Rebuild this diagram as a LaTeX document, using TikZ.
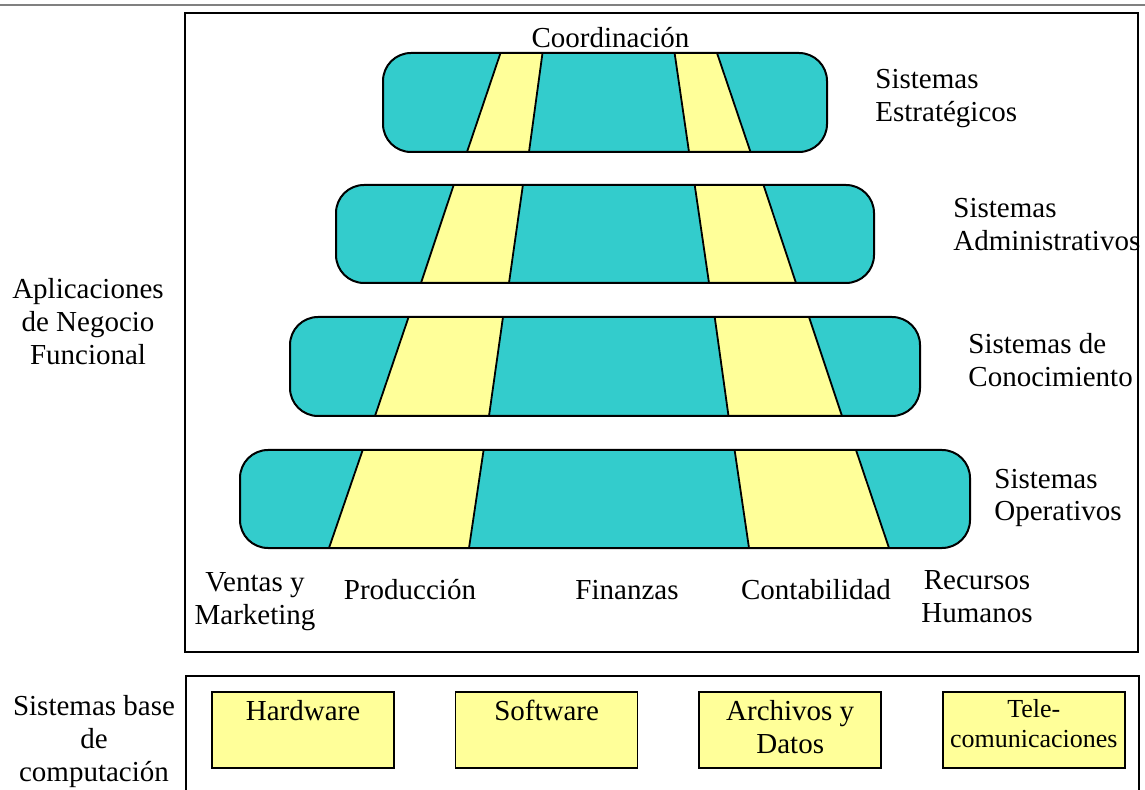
\documentclass[tikz,border=0pt]{standalone}
\usepackage{fontspec}
\setmainfont{Liberation Serif}
\usetikzlibrary{positioning}

\definecolor{turq}{RGB}{51,204,204}
\definecolor{amarillo}{RGB}{255,255,153}

\begin{document}
\begin{tikzpicture}[x=0.5pt,y=-0.5pt,
  every node/.style={font=\fontsize{14.5}{16.5}\selectfont,inner sep=0pt},
  fila/.style={draw=black,line width=1pt,rounded corners=14pt},
  banda/.style={fill=amarillo,draw=black,line width=.9pt},
  caja/.style={fill=amarillo,draw=black,line width=.8pt,minimum width=91pt,
    align=center,text height=14.5pt,text depth=23.5pt}]
\useasboundingbox (0,0) rectangle (1145,790);
\draw[gray,line width=1pt] (0,5) -- (1145,5);
\draw[line width=.8pt] (185,13) rectangle (1138,652);
\draw[line width=.8pt] (186,790) -- (186,676) -- (1139,676) -- (1139,790);
% niveles
\fill[turq,rounded corners=14pt] (383,53) rectangle (827,152);
\draw[banda] (500.5,53) -- (542.5,53) -- (529,152) -- (467,152) -- cycle;
\draw[banda] (674.6,53) -- (717,53) -- (750.5,152) -- (689,152) -- cycle;
\draw[fila] (383,53) rectangle (827,152);
\fill[turq,rounded corners=14pt] (336,185) rectangle (874,283);
\draw[banda] (453.7,185) -- (522.9,185) -- (509,283) -- (421,283) -- cycle;
\draw[banda] (694.7,185) -- (763.5,185) -- (796,283) -- (709,283) -- cycle;
\draw[fila] (336,185) rectangle (874,283);
\fill[turq,rounded corners=14pt] (290,317) rectangle (920,416);
\draw[banda] (408.6,317) -- (503,317) -- (489,416) -- (375,416) -- cycle;
\draw[banda] (714.7,317) -- (809,317) -- (842,416) -- (728.5,416) -- cycle;
\draw[fila] (290,317) rectangle (920,416);
\fill[turq,rounded corners=14pt] (240,450) rectangle (970,548);
\draw[banda] (362.7,450) -- (483.6,450) -- (469,548) -- (329,548) -- cycle;
\draw[banda] (734.6,450) -- (856,450) -- (889,548) -- (749,548) -- cycle;
\draw[fila] (240,450) rectangle (970,548);
% textos (base = ultima linea)
\node[anchor=base] (coord) at (610.5,48) {Coordinación};
\node[anchor=base west,align=left] (sest) at (875,122) {Sistemas\\Estratégicos};
\node[anchor=base west,align=left] (sadm) at (953,251) {Sistemas\\Administrativos};
\node[anchor=base west,align=left] (scon) at (968,387) {Sistemas de\\Conocimiento};
\node[anchor=base west,align=left] (sope) at (994,521) {Sistemas\\Operativos};
\node[anchor=base,align=center] (apl) at (88,365) {Aplicaciones\\de Negocio\\Funcional};
\node[anchor=base,align=center] (ventas) at (255,624) {Ventas y\\Marketing};
\node[anchor=base] (prod) at (410,599) {Producción};
\node[anchor=base] (fin) at (627,599) {Finanzas};
\node[anchor=base] (cont) at (816,599) {Contabilidad};
\node[anchor=base,align=center] (rrhh) at (977,622) {Recursos\\Humanos};
\node[anchor=base,align=center] (sbase) at (94,781) {Sistemas base\\de\\computación};
% sistemas base
\node[caja,anchor=north] (hw) at (303,691) {Hardware};
\node[caja,right=30pt of hw] (sw) {Software};
\node[caja,right=30pt of sw,text height=31pt,text depth=7pt] (arch) {Archivos y\\Datos};
\node[caja,right=30pt of arch,font=\fontsize{13}{15}\selectfont,
  text height=28pt,text depth=10pt] (tele) {Tele-\\comunicaciones};
\end{tikzpicture}
\end{document}
